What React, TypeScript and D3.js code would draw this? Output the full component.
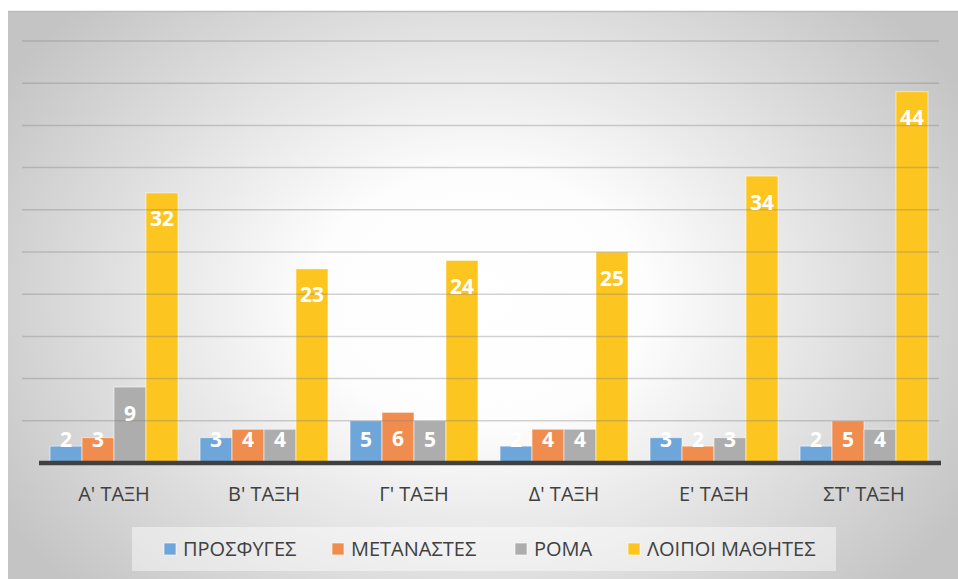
import React, { useEffect, useRef } from 'react';
import * as d3 from 'd3';

const categories = ["Α' ΤΑΞΗ", "Β' ΤΑΞΗ", "Γ' ΤΑΞΗ", "Δ' ΤΑΞΗ", "Ε' ΤΑΞΗ", "ΣΤ' ΤΑΞΗ"];
const seriesNames = ['ΠΡΟΣΦΥΓΕΣ', 'ΜΕΤΑΝΑΣΤΕΣ', 'ΡΟΜΑ', 'ΛΟΙΠΟΙ ΜΑΘΗΤΕΣ'];
const refugees = [2, 3, 5, 2, 3, 2];
const migrants = [3, 4, 6, 4, 2, 5];
const roma = [9, 4, 5, 4, 3, 4];
const others = [32, 23, 24, 25, 34, 44];
const yTicks = [0, 5, 10, 15, 20, 25, 30, 35, 40, 45, 50];
const colors = ['#6FA6DA', '#F08D4E', '#ADADAD', '#FCC51F'];

const App = () => {
  const svgRef = useRef<SVGSVGElement>(null);

  useEffect(() => {
    const width = 958;
    const height = 579;
    const plot = { left: 39, right: 939, top: 41, bottom: 463 };
    const series = [refugees, migrants, roma, others];

    const svg = d3.select(svgRef.current);
    svg.selectAll('*').remove();
    svg.attr('width', width).attr('height', height);

    // background gradient
    const defs = svg.append('defs');
    const grad = defs
      .append('radialGradient')
      .attr('id', 'bg')
      .attr('gradientUnits', 'userSpaceOnUse')
      .attr('cx', 480)
      .attr('cy', 300)
      .attr('r', 560)
      .attr('gradientTransform', 'translate(480,300) scale(1,0.75) translate(-480,-300)');
    grad.append('stop').attr('offset', '0%').attr('stop-color', '#ffffff');
    grad.append('stop').attr('offset', '30%').attr('stop-color', '#fdfdfd');
    grad.append('stop').attr('offset', '100%').attr('stop-color', '#c4c4c4');

    svg
      .append('rect')
      .attr('x', 8)
      .attr('y', 11)
      .attr('width', width - 8)
      .attr('height', height - 11)
      .attr('fill', 'url(#bg)');
    svg
      .append('line')
      .attr('x1', 8)
      .attr('x2', width)
      .attr('y1', 11.5)
      .attr('y2', 11.5)
      .attr('stroke', '#bdbdbd')
      .attr('stroke-width', 1.5);

    const x0 = d3
      .scaleBand<string>()
      .domain(categories)
      .range([plot.left, plot.right])
      .paddingInner(0.147)
      .paddingOuter(0.0735);
    const x1 = d3
      .scaleBand<number>()
      .domain(d3.range(seriesNames.length))
      .range([0, x0.bandwidth()]);
    const y = d3.scaleLinear().domain([0, 50]).range([plot.bottom, plot.top]);

    // bars
    series.forEach((vals, si) => {
      svg
        .append('g')
        .selectAll('rect')
        .data(vals)
        .join('rect')
        .attr('x', (d, i) => (x0(categories[i]) as number) + (x1(si) as number))
        .attr('y', (d) => y(d))
        .attr('width', x1.bandwidth())
        .attr('height', (d) => y(0) - y(d))
        .attr('fill', colors[si])
        .attr('stroke', 'rgba(255,255,255,0.55)')
        .attr('stroke-width', 1);
    });

    // gridlines drawn over bars, semi transparent
    svg
      .append('g')
      .selectAll('line')
      .data(yTicks.slice(1))
      .join('line')
      .attr('x1', plot.left - 17)
      .attr('x2', plot.right)
      .attr('y1', (d) => y(d))
      .attr('y2', (d) => y(d))
      .attr('stroke', '#7f7f7f')
      .attr('stroke-opacity', 0.35)
      .attr('stroke-width', 1.5);

    // baseline
    svg
      .append('line')
      .attr('x1', plot.left)
      .attr('x2', plot.right + 2)
      .attr('y1', y(0))
      .attr('y2', y(0))
      .attr('stroke', '#404040')
      .attr('stroke-width', 4.5);

    // value labels
    series.forEach((vals, si) => {
      svg
        .append('g')
        .selectAll('text')
        .data(vals)
        .join('text')
        .attr('x', (d, i) => (x0(categories[i]) as number) + (x1(si) as number) + x1.bandwidth() / 2)
        .attr('y', (d) => Math.min(y(d) + 26, y(0) - 24))
        .attr('dy', '0.36em')
        .attr('text-anchor', 'middle')
        .attr('fill', '#ffffff')
        .attr('font-family', '"Open Sans", sans-serif')
        .attr('font-weight', 'bold')
        .attr('font-size', 21)
        .text((d) => d);
    });

    // category axis labels
    svg
      .append('g')
      .selectAll('text')
      .data(categories)
      .join('text')
      .attr('x', (d) => (x0(d) as number) + x0.bandwidth() / 2)
      .attr('y', 501)
      .attr('text-anchor', 'middle')
      .attr('fill', '#404040')
      .attr('font-family', '"Open Sans", sans-serif')
      .attr('font-size', 20)
      .text((d) => d);

    // legend
    svg
      .append('rect')
      .attr('x', 132)
      .attr('y', 527)
      .attr('width', 704)
      .attr('height', 44)
      .attr('fill', '#ffffff')
      .attr('fill-opacity', 0.45);

    const legendX = [164, 332, 515, 628];
    const legend = svg
      .append('g')
      .selectAll('g')
      .data(seriesNames)
      .join('g')
      .attr('transform', (d, i) => `translate(${legendX[i]},549)`);
    legend
      .append('rect')
      .attr('x', 0)
      .attr('y', -6)
      .attr('width', 12)
      .attr('height', 12)
      .attr('fill', (d, i) => colors[i])
      .attr('stroke', 'rgba(255,255,255,0.6)');
    legend
      .append('text')
      .attr('x', 19)
      .attr('dy', '0.35em')
      .attr('fill', '#404040')
      .attr('font-family', '"Open Sans", sans-serif')
      .attr('font-size', 20)
      .text((d) => d);
  }, []);

  return <svg ref={svgRef} style={{ position: 'absolute', left: 0, top: 0 }}></svg>;
};

export default App;
